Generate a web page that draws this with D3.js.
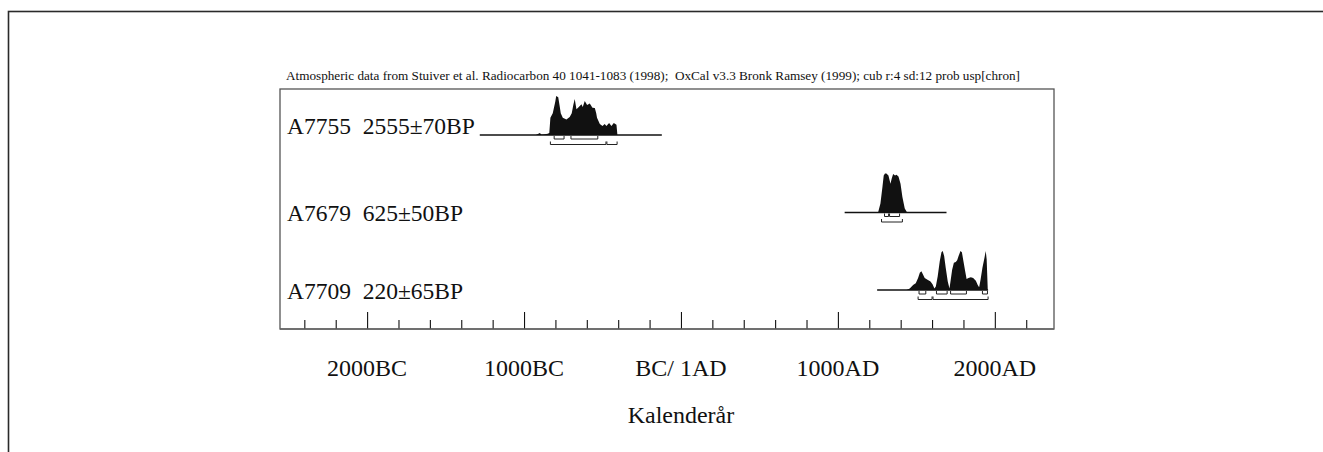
<!DOCTYPE html>
<html>
<head>
<meta charset="utf-8">
<script src="https://cdn.jsdelivr.net/npm/d3@7"></script>
<style>
  body { margin: 0; background: #fff; }
  svg text { font-family: "Liberation Serif", "DejaVu Serif", serif; fill: #111; white-space: pre; }
</style>
</head>
<body>
<div id="chart"></div>
<script>
//////////DATI////////////

var headerText = "Atmospheric data from Stuiver et al. Radiocarbon 40 1041-1083 (1998);  OxCal v3.3 Bronk Ramsey (1999); cub r:4 sd:12 prob usp[chron]";
var axisTitle = "Kalenderår";

var tickMajor = [-2000, -1000, 0, 1000, 2000];
var tickLabels = ["2000BC", "1000BC", "BC/ 1AD", "1000AD", "2000AD"];
var tickMinor = [-2400, -2200, -1800, -1600, -1400, -1200, -800, -600, -400, -200,
                 200, 400, 600, 800, 1200, 1400, 1600, 1800, 2200];

var sampleNames = ["A7755  2555±70BP", "A7679  625±50BP", "A7709  220±65BP"];

// extent of the baseline drawn for each sample (cal years, negative = BC)
var lineRanges = [[-1282, -122], [1043, 1692], [1250, 1957]];

// probability, relative to the highest point of each sample
var probA7755 = [[-925,0],[-899,0.05],[-890,0.01],[-880,0.01],[-849,0.03],[-839,0.05],[-832,0.44],
  [-817,0.56],[-801,0.85],[-795,1.0],[-782,0.97],[-772,0.72],[-766,0.56],[-753,0.44],[-730,0.40],
  [-709,0.46],[-696,0.56],[-686,0.77],[-677,0.92],[-666,0.66],[-651,0.72],[-634,0.79],[-626,0.72],
  [-613,0.87],[-598,0.77],[-581,0.81],[-564,0.70],[-549,0.69],[-540,0.56],[-535,0.44],[-517,0.28],
  [-500,0.23],[-486,0.28],[-475,0.23],[-458,0.31],[-443,0.23],[-428,0.31],[-411,0.26],[-405,0]];

var probA7679 = [[1256,0],[1271,0.23],[1284,0.66],[1292,0.95],[1300,1.0],[1309,1.0],[1322,0.95],
  [1335,0.74],[1343,0.87],[1352,0.99],[1364,0.95],[1373,0.97],[1386,0.92],[1399,0.74],[1411,0.40],
  [1426,0.10],[1441,0]];

var probA7709 = [[1437,0],[1458,0.04],[1479,0.13],[1496,0.17],[1511,0.31],[1522,0.44],[1532,0.48],
  [1543,0.39],[1553,0.31],[1571,0.26],[1590,0.22],[1603,0.15],[1615,0.04],[1624,0.09],[1636,0.35],
  [1649,0.74],[1660,0.97],[1668,1.0],[1677,0.87],[1687,0.57],[1700,0.22],[1711,0.04],[1719,0.26],
  [1728,0.52],[1739,0.70],[1751,0.72],[1760,0.76],[1769,0.87],[1781,1.0],[1790,0.97],[1800,0.74],
  [1811,0.48],[1820,0.28],[1832,0.31],[1847,0.33],[1862,0.31],[1879,0.24],[1891,0.13],[1900,0.07],
  [1909,0.26],[1921,0.57],[1934,0.83],[1942,1.0],[1948,0.78],[1955,0]];

var probs = [probA7755, probA7679, probA7709];

// 68.2% and 95.4% ranges
var range68 = [
  [[-808, -745], [-701, -530]],
  [[1297, 1323], [1329, 1393]],
  [[1517, 1560], [1628, 1696], [1718, 1819], [1921, 1953]]
];
var range95 = [
  [[-832, -478], [-472, -407]],
  [[1278, 1411]],
  [[1511, 1600], [1606, 1957]]
];

//////////DISEGNO////////////

function drawOxcal(){

  var W = 1323, H = 452;
  var frame = {left: 280, right: 1054, top: 89, bottom: 329};
  var labelShift = [-1, 8, 9];   // row label baseline relative to its line

  var svg = d3.select("#chart").append("svg")
    .attr("width", W)
    .attr("height", H);

  // outer border (runs off the right and bottom of the picture)
  svg.append("rect")
    .attr("x", 8.5).attr("y", 11.5)
    .attr("width", W + 20).attr("height", H + 20)
    .attr("fill", "none")
    .attr("stroke", "#2a2a2a")
    .attr("stroke-width", 1.6);

  var x = d3.scaleLinear().domain([-2555, 2377]).range([frame.left, frame.right]);
  var row = d3.scaleLinear().domain([0, 2]).range([135, 290]);

  // header
  svg.append("text")
    .attr("x", 286).attr("y", 80)
    .attr("textLength", 734)
    .attr("lengthAdjust", "spacingAndGlyphs")
    .style("font-size", "12.5px")
    .text(headerText);

  // plot frame
  svg.append("rect")
    .attr("x", frame.left).attr("y", frame.top)
    .attr("width", frame.right - frame.left)
    .attr("height", frame.bottom - frame.top)
    .attr("fill", "none")
    .attr("stroke", "#555")
    .attr("stroke-width", 1.3);

  // ticks pointing up from the bottom edge
  var axisG = svg.append("g").attr("transform", "translate(0," + frame.bottom + ")");
  axisG.append("g")
    .call(d3.axisTop(x).tickValues(tickMinor).tickSize(9).tickFormat(""))
    .call(function(g){ g.select(".domain").remove(); });
  axisG.append("g")
    .call(d3.axisTop(x).tickValues(tickMajor).tickSize(17).tickFormat(""))
    .call(function(g){ g.select(".domain").remove(); });
  axisG.selectAll(".tick line").attr("stroke", "#111").attr("stroke-width", 1.1);

  svg.append("line")
    .attr("x1", frame.left).attr("x2", frame.right)
    .attr("y1", frame.bottom).attr("y2", frame.bottom)
    .attr("stroke", "#666").attr("stroke-width", 1.6);

  // tick labels
  svg.selectAll(".ticklabel")
    .data(tickMajor)
    .enter().append("text")
    .attr("class", "ticklabel")
    .attr("x", function(d) { return x(d); })
    .attr("y", 376)
    .attr("text-anchor", "middle")
    .style("font-size", "24px")
    .text(function(d, i) { return tickLabels[i]; });

  svg.append("text")
    .attr("x", x(0)).attr("y", 423)
    .attr("text-anchor", "middle")
    .style("font-size", "24px")
    .text(axisTitle);

  // samples
  var samples = svg.selectAll(".sample")
    .data(sampleNames)
    .enter().append("g")
    .attr("class", "sample");

  samples.append("text")
    .attr("x", 287)
    .attr("y", function(d, i) { return row(i) + labelShift[i]; })
    .style("font-size", "23.5px")
    .text(function(d) { return d; });

  samples.each(function(d, i) {
    var g = d3.select(this);
    var base = row(i);
    var y = d3.scaleLinear().domain([0, 1]).range([base, base - 39]);

    var area = d3.area()
      .x(function(p) { return x(p[0]); })
      .y0(base)
      .y1(function(p) { return y(p[1]); });

    g.append("path")
      .attr("d", area(probs[i]))
      .attr("fill", "#111");

    g.append("line")
      .attr("x1", x(lineRanges[i][0])).attr("x2", x(lineRanges[i][1]))
      .attr("y1", base).attr("y2", base)
      .attr("stroke", "#111").attr("stroke-width", 1.3);

    drawBrackets(g, range68[i], base + 4);
    drawBrackets(g, range95[i], base + 9.5);
  });

  function drawBrackets(g, ranges, yy) {
    g.selectAll(null)
      .data(ranges)
      .enter().append("path")
      .attr("d", function(r) {
        return "M" + x(r[0]) + "," + (yy - 3) + "V" + yy + "H" + x(r[1]) + "V" + (yy - 3);
      })
      .attr("fill", "none")
      .attr("stroke", "#222")
      .attr("stroke-width", 1);
  }
}

drawOxcal();
</script>
</body>
</html>
